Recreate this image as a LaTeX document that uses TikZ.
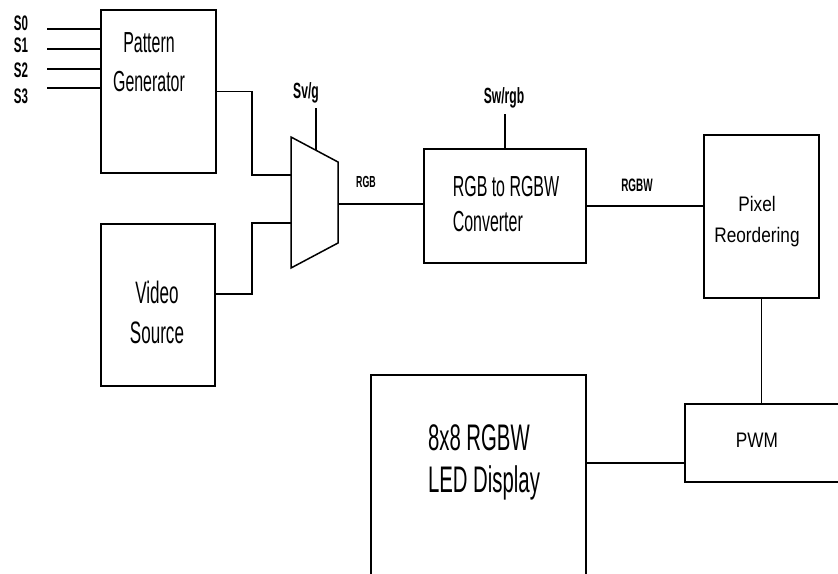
\documentclass[tikz,border=0pt]{standalone}
\usepackage{fontspec}
\setmainfont{Liberation Sans}[FakeStretch=0.55]
\newfontfamily\widefont{Liberation Sans}[FakeStretch=0.82]

\begin{document}
\begin{tikzpicture}[x=1pt,y=-1pt,line width=1.5pt,
    blk/.style={draw,rectangle,inner sep=0pt},
    txt/.style 2 args={align=center,inner sep=0pt,font=\fontsize{#1}{#2}\selectfont},
    txtleft/.style 2 args={align=left,inner sep=0pt,font=\fontsize{#1}{#2}\selectfont},
    txtwide/.style 2 args={align=center,inner sep=0pt,font=\widefont\fontsize{#1}{#2}\selectfont},
    sigtag/.style={inner sep=0pt,font=\bfseries\fontsize{#1}{#1}\selectfont},
    sigtag/.default=17]
        % Rahmen
        \clip (0,0) rectangle (838,573);

        % Bloecke
        \node[blk,minimum width=115,minimum height=163] (patgen) at (158.5,91.5) {};
        \node[blk,minimum width=114,minimum height=162] (video) at (158,305) {};
        \node[blk,minimum width=162,minimum height=114] (conv) at (505,206) {};
        \node[blk,minimum width=115,minimum height=163] (pix) at (761.5,216.5) {};
        \node[blk,minimum width=165,minimum height=78] (pwm) at (767.5,443) {};
        \node[blk,minimum width=215,minimum height=245] (led) at (478.5,497.5) {};

        % Beschriftung der Bloecke
        \node[txt={29}{39}] (patgentxt) at (149,62) {Pattern\\Generator};
        \node[txt={31}{40}] (videotxt) at (157,312) {Video\\Source};
        \node[txtleft={29}{35}] (convtxt) at (506,204) {RGB to RGBW\\Converter};
        \node[txtwide={21}{31}] (pixtxt) at (757,222) {Pixel\\Reordering};
        \node[txtwide={21}{21}] (pwmtxt) at (757,440) {PWM};
        \node[txtleft={37}{42}] (ledtxt) at (484,462) {8x8 RGBW\\LED Display};

        % Multiplexer
        \coordinate (muxa) at (291,137);
        \coordinate (muxb) at (338,162);
        \coordinate (muxc) at (338,243);
        \coordinate (muxd) at (291,268);
        \draw (muxa) -- (muxb) -- (muxc) -- (muxd) -- cycle;
        \coordinate (muxin1) at (291,175);
        \coordinate (muxin2) at (291,223);
        \coordinate (muxout) at (338,204);
        \coordinate (muxsel) at (316,150);

        % Eingaenge S0..S3
        \foreach \i/\ly/\ty in {0/29/23,1/49/45,2/69/70,3/88/96}{
            \coordinate (s\i) at (47,\ly);
            \draw (s\i) -- (s\i -| patgen.west);
            \node[sigtag=21] (slab\i) at (21,\ty) {S\i};
        }

        % Verbindungen
        \draw (patgen.east) -- ++(35,0) |- (muxin1);
        \draw ([yshift=11pt]video.east) -- ++(36,0) |- (muxin2);
        \coordinate (selg) at (316,108);
        \draw (muxsel) -- (selg);
        \node[sigtag=22] (selgtxt) at (306,93) {Sv/g};
        \draw (muxout) -- (muxout -| conv.west);
        \node[sigtag=16] (rgbtxt) at (366,182) {RGB};
        \draw (conv.north) -- ++(0,-34) coordinate (selrgb);
        \node[sigtag=22] (selrgbtxt) at (504,98) {Sw/rgb};
        \draw (conv.east) -- (conv.east -| pix.west);
        \node[sigtag=18] (rgbwtxt) at (637,185) {RGBW};
        \draw (pix.south) -- (pix.south |- pwm.north);
        \draw ([yshift=-20pt]pwm.west) -- ([yshift=-20pt]pwm.west -| led.east);
\end{tikzpicture}
\end{document}
